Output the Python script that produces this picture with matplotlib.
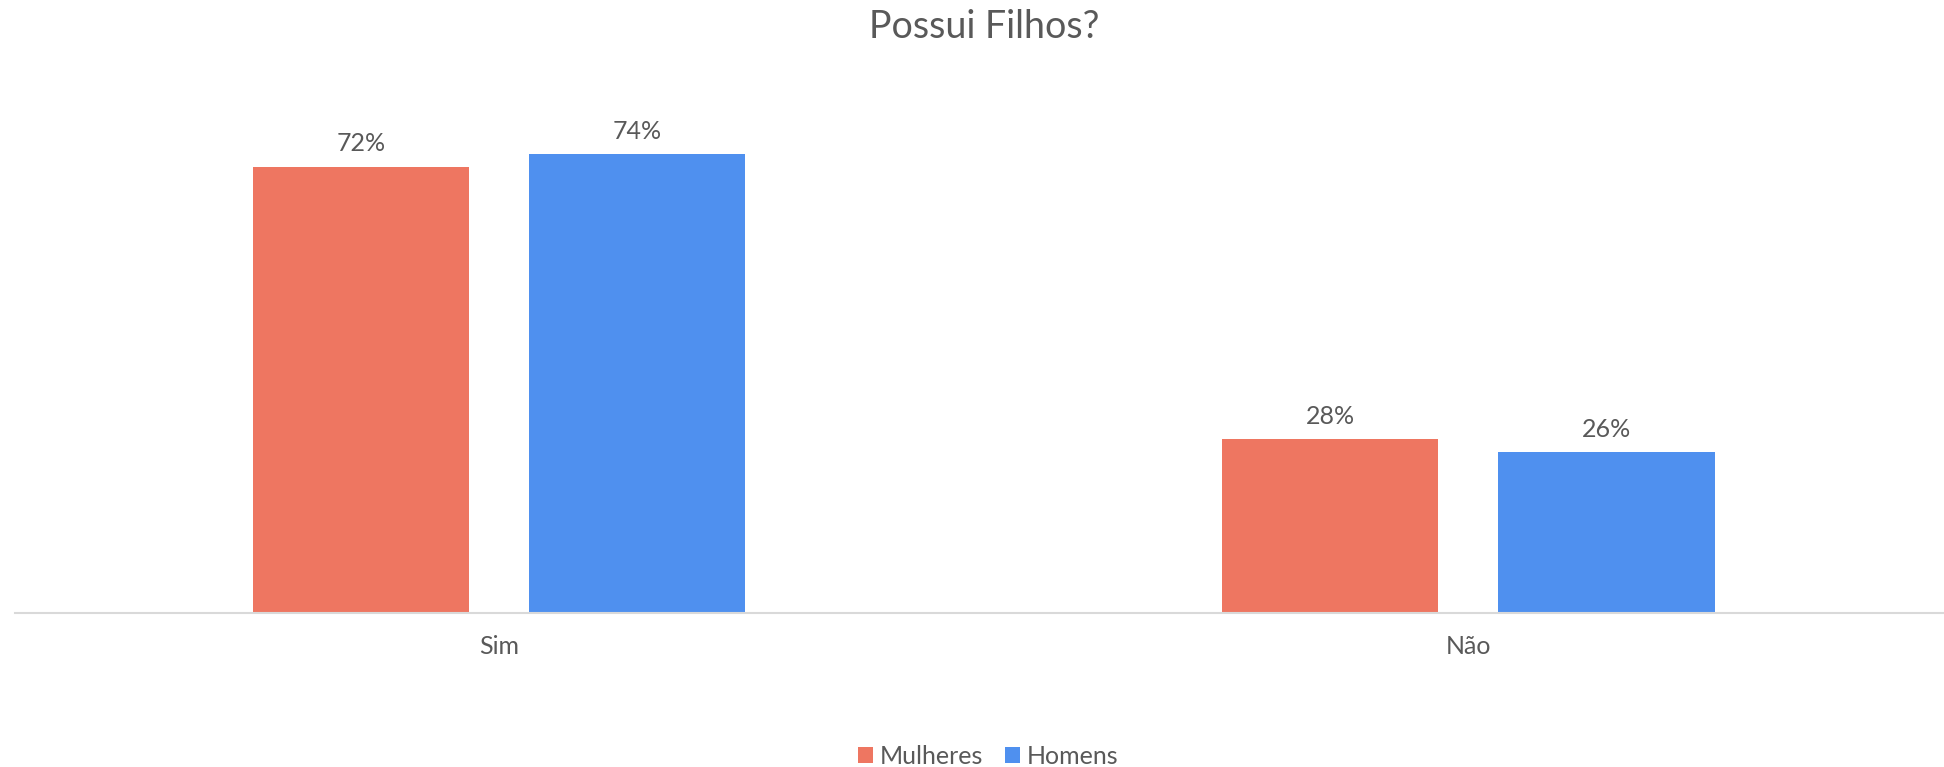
import matplotlib
matplotlib.use("Agg")
import matplotlib.pyplot as plt
import numpy as np

categories = ["Sim", "Não"]
series_names = ["Mulheres", "Homens"]
mulheres = [72, 28]
homens = [74, 26]
colors = ["#EE7661", "#4F90EF"]
text_color = "#595959"

plt.rcParams['font.family'] = ['Lato', 'DejaVu Sans']

fig = plt.figure(figsize=(19.44, 7.67), dpi=100)
ax = fig.add_axes([15/1944, 1 - 613/767, 1 - 15/1944, (613 - 117)/767])

x = np.arange(len(categories))
w = 0.2235
off = 0.1425
for vals, name, c, o in [(mulheres, series_names[0], colors[0], -off),
                         (homens, series_names[1], colors[1], off)]:
    bars = ax.bar(x + o, vals, width=w, color=c, label=name)
    for b, v in zip(bars, vals):
        ax.annotate(f"{v}%", (b.get_x() + b.get_width() / 2, b.get_height()),
                    xytext=(0, 8), textcoords="offset points",
                    ha="center", va="bottom", fontsize=18, color=text_color)

ax.set_xlim(-0.4995, 1.491)
ax.set_ylim(0, 80)
ax.set_yticks([])
ax.set_xticks(x)
ax.set_xticklabels(categories, fontsize=18, color=text_color)
ax.tick_params(axis='x', length=0, pad=16)
for s in ["top", "right", "left"]:
    ax.spines[s].set_visible(False)
ax.spines["bottom"].set_color("#d9d9d9")
ax.spines["bottom"].set_linewidth(1.5)

fig.suptitle("Possui Filhos?", fontsize=27, color=text_color,
             x=984/1944, y=1 - 27/767, va="center")

leg = fig.legend(loc="center", bbox_to_anchor=(988/1944, 1 - 756/767), ncol=2,
                 frameon=False, fontsize=18, handlelength=0.6, handleheight=0.6,
                 handletextpad=0.25, columnspacing=0.9)
for t in leg.get_texts():
    t.set_color(text_color)

fig.savefig("out.png", dpi=100, facecolor="white")
